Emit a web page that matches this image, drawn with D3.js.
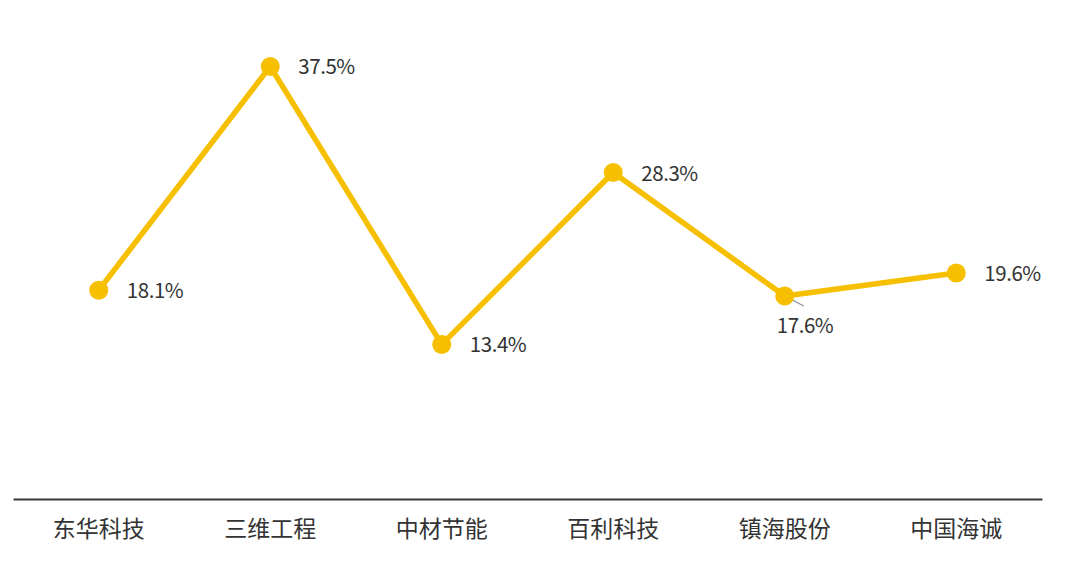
<!DOCTYPE html>
<html><head><meta charset="utf-8">
<script src="https://cdn.jsdelivr.net/npm/d3@7"></script>
<style>body{margin:0;background:#fff}svg{display:block}</style>
</head><body>
<svg id="c" width="1080" height="574"></svg>
<script>
const categories = ["东华科技","三维工程","中材节能","百利科技","镇海股份","中国海诚"];
const values = [18.1, 37.5, 13.4, 28.3, 17.6, 19.6];
const labels = ["18.1%","37.5%","13.4%","28.3%","17.6%","19.6%"];

const svg = d3.select("#c");
const x = d3.scaleBand().domain(categories).range([13, 1042]);
const y = d3.scaleLinear().domain([0, 40]).range([499, 37.6]);
const cx = d => x(d) + x.bandwidth()/2;

// axis
const ax = svg.append("g").attr("transform","translate(0,499)")
  .call(d3.axisBottom(x).tickSize(0));
ax.select(".domain").attr("stroke","#3a3a3a").attr("stroke-width",2.2);
ax.selectAll("text").attr("font-family","'Noto Sans CJK SC',sans-serif")
  .attr("font-size",23).attr("fill","#333").attr("dy",null).attr("y",38);

const data = categories.map((c,i)=>({c, v: values[i], l: labels[i]}));
const color = "#F6BF00";

svg.append("path").datum(data)
  .attr("fill","none").attr("stroke",color).attr("stroke-width",5.5)
  .attr("stroke-linejoin","round")
  .attr("d", d3.line().x(d=>cx(d.c)).y(d=>y(d.v)));

// leader for 镇海股份
const zi = 4;
svg.append("line")
  .attr("x1", cx(categories[zi])+2).attr("y1", y(values[zi])+1)
  .attr("x2", cx(categories[zi])+19).attr("y2", y(values[zi])+10)
  .attr("stroke","#8a8f9a").attr("stroke-width",1.3);

svg.selectAll("circle").data(data).enter().append("circle")
  .attr("cx", d=>cx(d.c)).attr("cy", d=>y(d.v)).attr("r", 9.5).attr("fill", color);

svg.selectAll(".lbl").data(data).enter().append("text")
  .attr("class","lbl")
  .attr("x", (d,i)=> i===zi ? cx(d.c)-8 : cx(d.c)+28)
  .attr("y", (d,i)=> i===zi ? y(d.v)+37 : y(d.v)+8)
  .attr("font-family","'Noto Sans CJK SC',sans-serif").attr("font-size",20.5)
  .attr("fill","#333").attr("textLength",57).attr("lengthAdjust","spacing")
  .text(d=>d.l);
</script>
</body></html>
